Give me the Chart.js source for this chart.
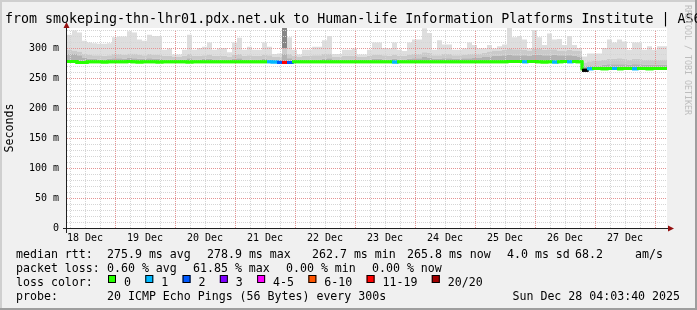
<!DOCTYPE html>
<html>
<head>
<meta charset="utf-8">
<title>smokeping</title>
<script src="https://cdn.jsdelivr.net/npm/chart.js@4.4.1/dist/chart.umd.min.js"></script>
<style>
  html, body { margin: 0; padding: 0; background: #f0f0f0; }
  canvas { display: block; }
</style>
</head>
<body>
<canvas id="grafico" width="697" height="310"></canvas>
<script>
const titulo = 'from smokeping-thn-lhr01.pdx.net.uk to Human-life Information Platforms Institute | AS6';
const dias = ['18 Dec', '19 Dec', '20 Dec', '21 Dec', '22 Dec', '23 Dec', '24 Dec', '25 Dec', '26 Dec', '27 Dec'];
const horaInicio = 4.8;      // first sample, hours after 18 Dec 00:00
const horasPorMuestra = 2;

// median rtt (ms), one value per 2h sample
const mediana = [
  277.5, 277.5, 276, 276, 277, 277, 277, 276.5, 277, 277,
  277, 277, 277.5, 277, 276.5, 277, 277, 277, 276.5, 277,
  277, 277, 277, 277, 276.5, 277, 277, 277, 277, 277,
  277, 277, 277, 277, 277, 277, 277, 277, 277, 277,
  277, 276.5, 276, 276, 276, 277, 277, 277, 277, 277,
  277, 277, 277, 277, 277, 277, 277, 277, 277, 277,
  277, 277, 277, 277, 277, 276.5, 277, 277, 277, 277,
  277, 277, 277, 277, 277, 277, 277, 277, 277, 277,
  277, 277, 277, 277, 277, 277, 277, 277, 277.5, 277.5,
  277.5, 277, 277.5, 277.5, 277, 276.5, 277, 276.5, 277, 277.5,
  277, 277.5, 277, 263, 265.5, 266, 266, 265.5, 266, 266,
  265.5, 266, 266, 265.5, 266, 266, 265.5, 266, 266, 265.8
];

// smoke: upper edges of the inner, middle and outer grey bands (ms)
const humoInterior = [
  291, 290, 288, 284, 282, 282, 281, 281, 282, 283,
  283, 282, 284, 283, 282, 282, 283, 282, 282, 281,
  281, 280, 280, 281, 283, 281, 281, 282, 282, 281,
  281, 281, 280, 282, 283, 281, 281, 281, 281, 282,
  281, 280, 281, 290, 283, 281, 280, 281, 281, 281,
  281, 282, 283, 280, 280, 281, 281, 281, 280, 280,
  281, 282, 282, 281, 281, 282, 281, 281, 282, 283,
  283, 285, 284, 282, 282, 283, 283, 282, 282, 283,
  283, 284, 284, 285, 286, 287, 287, 288, 289, 288,
  288, 288, 287, 289, 289, 288, 288, 289, 288, 288,
  288, 287, 286, 270, 271, 271, 271, 272, 273, 273,
  273, 273, 272, 273, 273, 272, 272, 272, 272, 272
];
const humoMedio = [
  297, 296, 294, 290, 289, 288, 288, 287, 288, 290,
  290, 289, 291, 291, 289, 288, 290, 289, 289, 287,
  287, 285, 285, 287, 290, 287, 287, 288, 289, 287,
  287, 287, 285, 289, 290, 287, 288, 287, 287, 289,
  288, 285, 286, 300, 290, 287, 285, 287, 287, 288,
  288, 290, 291, 285, 285, 287, 287, 287, 285, 285,
  287, 289, 289, 288, 287, 289, 287, 287, 289, 290,
  290, 293, 292, 288, 288, 290, 290, 288, 288, 289,
  290, 291, 291, 292, 294, 296, 296, 297, 299, 298,
  298, 297, 295, 299, 299, 297, 298, 298, 296, 296,
  297, 296, 295, 276, 278, 279, 279, 280, 282, 282,
  283, 282, 280, 282, 282, 280, 281, 280, 280, 281
];
const humoMax = [
  322, 329, 326, 312, 309, 308, 307, 307, 308, 318,
  319, 319, 328, 326, 314, 312, 322, 320, 320, 297,
  299, 289, 289, 297, 322, 297, 300, 302, 309, 297,
  299, 300, 293, 309, 317, 297, 302, 297, 297, 309,
  302, 290, 291, 334, 318, 297, 289, 297, 297, 302,
  302, 313, 320, 290, 290, 297, 297, 299, 289, 289,
  297, 309, 309, 300, 299, 309, 297, 295, 309, 314,
  314, 333, 325, 297, 313, 306, 306, 297, 297, 299,
  309, 305, 299, 299, 305, 299, 303, 306, 334, 318,
  320, 314, 299, 330, 318, 305, 324, 314, 315, 305,
  320, 305, 300, 286, 291, 291, 291, 300, 314, 309,
  314, 311, 297, 309, 309, 297, 303, 297, 303, 303
];

// lost pings out of 20 per sample (null = unknown)
const perdidas = [
  0, 0, 0, 0, 0, 0, 0, 0, 0, 0, 0, 0, 0, 0, 0, 0, 0, 0, 0, 0,
  0, 0, 0, 0, 0, 0, 0, 0, 0, 0, 0, 0, 0, 0, 0, 0, 0, 0, 0, 0,
  1, 1, 2, 12, 2, 0, 0, 0, 0, 0, 0, 0, 0, 0, 0, 0, 0, 0, 0, 0,
  0, 0, 0, 0, 0, 1, 0, 0, 0, 0, 0, 0, 0, 0, 0, 0, 0, 0, 0, 0,
  0, 0, 0, 0, 0, 0, 0, 0, 0, 0, 0, 1, 0, 0, 0, 0, 0, 1, 0, 0,
  1, 0, 0, null, 1, 0, 0, 0, 0, 1, 0, 0, 0, 1, 0, 0, 0, 0, 0, 0
];

const perdidaEtiquetas = ['0', '1', '2', '3', '4-5', '6-10', '11-19', '20/20'];
const perdidaLimites = [0, 1, 2, 3, 5, 10, 19, 20];
const perdidaColores = ['#26ff00', '#00b8ff', '#0059ff', '#7e00ff', '#ff00ff', '#ff5500', '#ff0000', '#a10000'];

const rttStats = ['275.9 ms avg', '278.9 ms max', '262.7 ms min', '265.8 ms now', '4.0 ms sd', '68.2', 'am/s'];
const lossStats = ['0.60 % avg', '61.85 % max', '0.00 % min', '0.00 % now'];
const sonda = '20 ICMP Echo Pings (56 Bytes) every 300s';
const fecha = 'Sun Dec 28 04:03:40 2025';

const MONO = '"DejaVu Sans Mono", monospace';

function colorPerdida(n) {
  if (n === null || n === undefined) return '#000000';
  const k = perdidaLimites.findIndex(l => n <= l);
  return perdidaColores[k < 0 ? perdidaColores.length - 1 : k];
}

function puntos(serie) {
  const pts = serie.map((v, i) => ({ x: horaInicio + i * horasPorMuestra, y: v }));
  pts.push({ x: horaInicio + serie.length * horasPorMuestra, y: serie[serie.length - 1] });
  return pts;
}

const fondo = {
  id: 'fondo',
  beforeDraw(chart) {
    const { ctx, chartArea: a, width, height } = chart;
    ctx.save();
    ctx.fillStyle = '#f0f0f0';
    ctx.fillRect(0, 0, width, height);
    ctx.fillStyle = '#cfcfcf';
    ctx.fillRect(0, 0, width, 2);
    ctx.fillRect(0, 0, 2, height);
    ctx.fillStyle = '#9e9e9e';
    ctx.fillRect(0, height - 2, width, 2);
    ctx.fillRect(width - 2, 0, 2, height);
    ctx.fillStyle = '#ffffff';
    ctx.fillRect(a.left, a.top, a.right - a.left, a.bottom - a.top);
    ctx.restore();
  }
};

// rrdtool style dotted grid, drawn over the smoke, then the median again on top
const rejilla = {
  id: 'rejilla',
  afterDatasetsDraw(chart) {
    const { ctx, chartArea: a, scales: { x, y } } = chart;
    ctx.save();
    ctx.lineWidth = 1;
    ctx.setLineDash([1, 1]);
    const horizontal = (v, color) => {
      const py = Math.round(y.getPixelForValue(v)) + 0.5;
      ctx.strokeStyle = color;
      ctx.beginPath();
      ctx.moveTo(a.left, py);
      ctx.lineTo(a.right, py);
      ctx.stroke();
    };
    const vertical = (h, color) => {
      const px = Math.round(x.getPixelForValue(h)) + 0.5;
      ctx.strokeStyle = color;
      ctx.beginPath();
      ctx.moveTo(px, a.bottom);
      ctx.lineTo(px, a.top + 2);
      ctx.stroke();
    };
    // minor lines first, majors over them
    for (let v = 10; v <= 330; v += 10) if (v % 50) horizontal(v, '#d5d5d5');
    for (let h = 6; h < x.max; h += 6) if (h % 24) vertical(h, '#d5d5d5');
    for (let v = 50; v <= 330; v += 50) horizontal(v, '#e59494');
    for (let h = 24; h < x.max; h += 24) vertical(h, '#e59494');
    ctx.restore();
    chart.getDatasetMeta(0).controller.draw();
  }
};

const textos = {
  id: 'textos',
  afterDraw(chart) {
    const { ctx, chartArea: a } = chart;
    ctx.save();
    // axes with arrows
    ctx.strokeStyle = '#202020';
    ctx.lineWidth = 1;
    ctx.beginPath();
    ctx.moveTo(a.left - 4, a.bottom + 0.5);
    ctx.lineTo(a.right + 2, a.bottom + 0.5);
    ctx.moveTo(a.left - 0.5, a.bottom + 5);
    ctx.lineTo(a.left - 0.5, a.top - 1);
    ctx.stroke();
    ctx.fillStyle = '#931010';
    ctx.beginPath();
    ctx.moveTo(a.right + 1, a.bottom - 2.5);
    ctx.lineTo(a.right + 7, a.bottom + 0.5);
    ctx.lineTo(a.right + 1, a.bottom + 3.5);
    ctx.closePath();
    ctx.fill();
    ctx.beginPath();
    ctx.moveTo(a.left - 3.5, a.top);
    ctx.lineTo(a.left - 0.5, a.top - 6);
    ctx.lineTo(a.left + 2.5, a.top);
    ctx.closePath();
    ctx.fill();

    // title
    ctx.fillStyle = '#000';
    ctx.textAlign = 'left';
    ctx.textBaseline = 'alphabetic';
    ctx.font = '13.3px ' + MONO;
    ctx.fillText(titulo, 5, 22.5);

    // legend
    ctx.font = '11.6px ' + MONO;
    ctx.fillText('median rtt:', 16, 258);
    [107, 207, 312, 407, 507, 575, 635].forEach((x, i) => ctx.fillText(rttStats[i], x, 258));
    ctx.fillText('packet loss:', 16, 272);
    [107, 193, 286, 372].forEach((x, i) => ctx.fillText(lossStats[i], x, 272));
    ctx.fillText('loss color:', 16, 286);
    let x = 108;
    perdidaEtiquetas.forEach((et, i) => {
      ctx.fillStyle = perdidaColores[i];
      ctx.fillRect(x, 275, 8, 8);
      ctx.strokeStyle = '#000';
      ctx.strokeRect(x + 0.5, 275.5, 7, 7);
      ctx.fillStyle = '#000';
      ctx.fillText(et, x + 16, 286);
      x = x + 16 + ctx.measureText(et).width + 14.3;
    });
    ctx.fillText('probe:', 16, 300);
    ctx.fillText(sonda, 107, 300);
    ctx.textAlign = 'right';
    ctx.fillText(fecha, 680, 300);

    // watermark
    ctx.translate(687, 60);
    ctx.rotate(Math.PI / 2);
    ctx.textAlign = 'center';
    ctx.textBaseline = 'middle';
    ctx.font = '8.3px ' + MONO;
    ctx.fillStyle = '#bdbdbd';
    ctx.fillText('RRDTOOL / TOBI OETIKER', 0, 0);
    ctx.restore();
  }
};

function banda(serie, color, extra) {
  return Object.assign({
    data: puntos(serie),
    stepped: true,
    borderWidth: 0,
    borderColor: 'rgba(0,0,0,0)',
    pointRadius: 0,
    fill: '-1',
    backgroundColor: color
  }, extra || {});
}

new Chart(document.getElementById('grafico'), {
  type: 'line',
  data: {
    datasets: [
      {
        label: 'median rtt',
        data: puntos(mediana),
        stepped: true,
        borderWidth: 3,
        borderColor: perdidaColores[0],
        pointRadius: 0,
        fill: false,
        segment: { borderColor: c => colorPerdida(perdidas[c.p0DataIndex]) }
      },
      banda(humoInterior, '#b2b2b2'),
      banda(humoMedio, '#cacaca'),
      banda(humoMax, '#dedede', {
        segment: { backgroundColor: c => (perdidas[c.p0DataIndex] >= 6 ? '#858585' : undefined) }
      })
    ]
  },
  options: {
    responsive: false,
    devicePixelRatio: 1,
    animation: false,
    events: [],
    layout: { padding: { top: 28, right: 30, left: 0, bottom: 0 } },
    plugins: { legend: { display: false }, tooltip: { enabled: false }, title: { display: false } },
    scales: {
      x: {
        type: 'linear',
        min: horaInicio,
        max: horaInicio + mediana.length * horasPorMuestra,
        afterBuildTicks: s => {
          s.ticks = [];
          for (let h = 12; h < s.max; h += 24) s.ticks.push({ value: h });
        },
        afterFit: s => { s.height = 82; },
        grid: { display: false, drawTicks: false },
        border: { display: false },
        ticks: {
          autoSkip: false,
          maxRotation: 0,
          padding: 4,
          color: '#000',
          font: { family: MONO, size: 10 },
          callback: v => dias[(v - 12) / 24]
        }
      },
      y: {
        min: 0,
        max: 333.3,
        afterBuildTicks: s => {
          s.ticks = [];
          for (let v = 0; v <= 300; v += 50) s.ticks.push({ value: v });
        },
        afterFit: s => { s.width = 67; },
        grid: { display: false, drawTicks: false },
        border: { display: false },
        ticks: {
          autoSkip: false,
          padding: 8,
          color: '#000',
          font: { family: MONO, size: 10 },
          callback: v => (v === 0 ? '0' : v + ' m')
        },
        title: {
          display: true,
          text: 'Seconds',
          color: '#000',
          font: { family: MONO, size: 11.6 },
          padding: { top: 3, bottom: 0 }
        }
      }
    }
  },
  plugins: [fondo, rejilla, textos]
});
</script>
</body>
</html>
